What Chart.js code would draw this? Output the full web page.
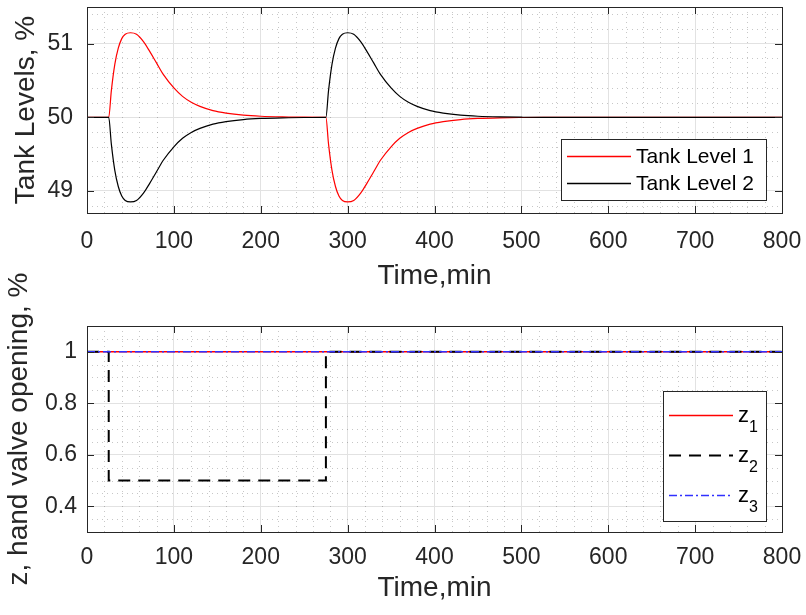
<!DOCTYPE html>
<html>
<head>
<meta charset="utf-8">
<script src="https://cdn.jsdelivr.net/npm/chart.js@4.4.1/dist/chart.umd.min.js"></script>
<style>
  body { margin: 0; background: #fff; }
  #wrap { position: relative; width: 806px; height: 615px; }
  #levelChart { position: absolute; left: 0; top: 0; }
  #valveChart { position: absolute; left: 0; top: 250px; }
</style>
</head>
<body>
<div id="wrap">
  <canvas id="levelChart" width="806" height="300"></canvas>
  <canvas id="valveChart" width="806" height="365"></canvas>
</div>
<script>
// time samples (min)
const levelTime = [0, 25, 28, 32, 36, 40, 44, 50, 57, 65,
  72, 80, 88, 100, 110, 120, 130, 145, 160, 180,
  200, 225, 250, 275, 278, 282, 286, 290, 294, 300,
  307, 315, 322, 330, 338, 350, 360, 370, 380, 395,
  410, 430, 450, 475, 500, 525, 800];

const tankLevel1 = [50, 50, 50.36, 50.72, 50.94, 51.07, 51.13, 51.15, 51.13, 51.03,
  50.90, 50.74, 50.58, 50.40, 50.285, 50.205, 50.15, 50.092, 50.058, 50.03,
  50.015, 50.006, 50.002, 50, 49.64, 49.28, 49.06, 48.93, 48.87, 48.85,
  48.87, 48.97, 49.10, 49.26, 49.42, 49.60, 49.715, 49.795, 49.85, 49.908,
  49.942, 49.97, 49.985, 49.994, 49.998, 50, 50];

const tankLevel2 = [50, 50, 49.64, 49.28, 49.06, 48.93, 48.87, 48.85, 48.87, 48.97,
  49.10, 49.26, 49.42, 49.60, 49.715, 49.795, 49.85, 49.908, 49.942, 49.97,
  49.985, 49.994, 49.998, 50, 50.36, 50.72, 50.94, 51.07, 51.13, 51.15,
  51.13, 51.03, 50.90, 50.74, 50.58, 50.40, 50.285, 50.205, 50.15, 50.092,
  50.058, 50.03, 50.015, 50.006, 50.002, 50, 50];

// hand valve openings
const valveTime = [0, 25, 25, 275, 275, 800];
const z1 = [1, 1, 1, 1, 1, 1];
const z2 = [1, 1, 0.5, 0.5, 1, 1];
const z3 = [1, 1, 1, 1, 1, 1];

// tick labels
const timeTicks = [0, 100, 200, 300, 400, 500, 600, 700, 800];
const levelTicks = [49, 50, 51];
const valveTicks = [0.4, 0.6, 0.8, 1];

const textColor = '#262626';
Chart.defaults.font.family = '"Liberation Sans", Arial, Helvetica, sans-serif';
Chart.defaults.color = textColor;

function toPoints(xs, ys) {
  return xs.map((x, i) => ({ x: x, y: ys[i] }));
}

function minorValues(min, max, step, major) {
  const out = [];
  for (let k = Math.ceil(min / step - 1e-9); k * step <= max + 1e-9; k++) {
    const v = k * step;
    const r = v / major;
    if (Math.abs(r - Math.round(r)) < 1e-6) continue;
    if (Math.abs(v - min) < 1e-9 || Math.abs(v - max) < 1e-9) continue;
    out.push(v);
  }
  return out;
}

function strokeLine(ctx, x1, y1, x2, y2) {
  ctx.beginPath();
  ctx.moveTo(x1, y1);
  ctx.lineTo(x2, y2);
  ctx.stroke();
}

// dotted minor grid, box and inward tick marks like matlab axes
const matlabAxes = {
  id: 'matlabAxes',
  beforeDatasetsDraw(chart, args, opts) {
    const { ctx, chartArea: a } = chart;
    const xs = chart.scales.x, ys = chart.scales.y;
    ctx.save();
    ctx.strokeStyle = 'rgba(0,0,0,0.22)';
    ctx.lineWidth = 1;
    ctx.setLineDash([1, 4]);
    minorValues(xs.min, xs.max, opts.xMinor, opts.xMajor).forEach(v => {
      const p = Math.round(xs.getPixelForValue(v)) + 0.5;
      strokeLine(ctx, p, a.top, p, a.bottom);
    });
    minorValues(ys.min, ys.max, opts.yMinor, opts.yMajor).forEach(v => {
      const p = Math.round(ys.getPixelForValue(v)) + 0.5;
      strokeLine(ctx, a.left, p, a.right, p);
    });
    ctx.restore();
  },
  afterDatasetsDraw(chart) {
    const { ctx, chartArea: a } = chart;
    const xs = chart.scales.x, ys = chart.scales.y;
    const len = 7;
    ctx.save();
    ctx.strokeStyle = textColor;
    ctx.lineWidth = 1;
    xs.ticks.forEach(t => {
      const p = Math.round(xs.getPixelForValue(t.value)) + 0.5;
      strokeLine(ctx, p, a.bottom, p, a.bottom - len);
      strokeLine(ctx, p, a.top, p, a.top + len);
    });
    ys.ticks.forEach(t => {
      const p = Math.round(ys.getPixelForValue(t.value)) + 0.5;
      strokeLine(ctx, a.left, p, a.left + len, p);
      strokeLine(ctx, a.right, p, a.right - len, p);
    });
    ctx.strokeRect(Math.round(a.left) + 0.5, Math.round(a.top) + 0.5,
      Math.round(a.right - a.left), Math.round(a.bottom - a.top));
    ctx.restore();
  }
};

// legend box drawn inside the plot area
const boxLegend = {
  id: 'boxLegend',
  afterDraw(chart, args, opts) {
    const { ctx, chartArea: a } = chart;
    const right = Math.round(a.right - opts.insetRight);
    const bottom = Math.round(a.bottom - opts.insetBottom);
    const left = right - opts.width;
    const top = bottom - opts.height;
    ctx.save();
    ctx.fillStyle = '#fff';
    ctx.fillRect(left, top, opts.width, opts.height);
    ctx.strokeStyle = textColor;
    ctx.lineWidth = 1;
    ctx.strokeRect(left + 0.5, top + 0.5, opts.width, opts.height);

    chart.data.datasets.forEach((ds, i) => {
      const y = Math.round(top + opts.firstRow + i * opts.rowGap) + 0.5;
      ctx.save();
      ctx.strokeStyle = ds.borderColor;
      ctx.lineWidth = Math.max(ds.borderWidth, 1.5);
      ctx.setLineDash(ds.borderDash || []);
      strokeLine(ctx, left + 6, y, left + 70, y);
      ctx.restore();
      ctx.fillStyle = '#000';
      ctx.textAlign = 'left';
      if (opts.sub) {
        ctx.textBaseline = 'alphabetic';
        ctx.font = '22px "Liberation Sans", Arial, sans-serif';
        ctx.fillText(ds.label, left + 75, y + 6);
        const w = ctx.measureText(ds.label).width;
        ctx.font = '16px "Liberation Sans", Arial, sans-serif';
        ctx.fillText(opts.sub[i], left + 75 + w, y + 16);
      } else {
        ctx.textBaseline = 'middle';
        ctx.font = '21px "Liberation Sans", Arial, sans-serif';
        ctx.fillText(ds.label, left + 75, y + 1);
      }
    });
    ctx.restore();
  }
};

function axisOptions(cfg) {
  return {
    x: {
      type: 'linear',
      min: 0,
      max: 800,
      afterBuildTicks: s => { s.ticks = timeTicks.map(v => ({ value: v })); },
      afterFit: s => { s.height = cfg.xHeight; s.paddingLeft = 0; s.paddingRight = 0; },
      ticks: { font: { size: 23 }, color: textColor, padding: cfg.xTickPad, maxRotation: 0, autoSkip: false,
        callback: v => String(v) },
      grid: { color: '#e2e2e2', drawTicks: false },
      border: { display: false },
      title: { display: true, text: 'Time,min', font: { size: 28 }, color: textColor,
        padding: { top: 0, bottom: cfg.xTitlePad } }
    },
    y: {
      min: cfg.yMin,
      max: cfg.yMax,
      afterBuildTicks: s => { s.ticks = cfg.yTicks.map(v => ({ value: v })); },
      afterFit: s => { s.width = 87; s.paddingTop = 0; s.paddingBottom = 0; },
      ticks: { font: { size: 23 }, color: textColor, padding: cfg.yTickPad,
        callback: v => String(v) },
      grid: { color: '#e2e2e2', drawTicks: false },
      border: { display: false },
      title: { display: true, text: cfg.yTitle, font: { size: 28 }, color: textColor,
        padding: { top: cfg.yTitlePad, bottom: 0 } }
    }
  };
}

new Chart(document.getElementById('levelChart'), {
  type: 'line',
  data: {
    datasets: [
      { label: 'Tank Level 1', data: toPoints(levelTime, tankLevel1), borderColor: '#ff0000',
        borderWidth: 1.2, pointRadius: 0, cubicInterpolationMode: 'monotone', order: 1 },
      { label: 'Tank Level 2', data: toPoints(levelTime, tankLevel2), borderColor: '#000000',
        borderWidth: 1.2, pointRadius: 0, cubicInterpolationMode: 'monotone', order: 0 }
    ]
  },
  options: {
    responsive: false,
    animation: false,
    layout: { padding: { top: 7, right: 24, left: 0, bottom: 0 } },
    scales: axisOptions({ xHeight: 87, xTickPad: 15, xTitlePad: 7, yMin: 48.7, yMax: 51.5,
      yTicks: levelTicks, yTickPad: 14, yTitle: 'Tank Levels, %', yTitlePad: 9 }),
    plugins: {
      legend: { display: false },
      tooltip: { enabled: false },
      matlabAxes: { xMinor: 20, xMajor: 100, yMinor: 0.2, yMajor: 1 },
      boxLegend: { insetRight: 16, insetBottom: 13, width: 205, height: 61, firstRow: 16.5, rowGap: 27.6 }
    }
  },
  plugins: [matlabAxes, boxLegend]
});

new Chart(document.getElementById('valveChart'), {
  type: 'line',
  data: {
    datasets: [
      { label: 'z', data: toPoints(valveTime, z1), borderColor: '#ff0000',
        borderWidth: 1.5, pointRadius: 0, order: 2 },
      { label: 'z', data: toPoints(valveTime, z2), borderColor: '#000000',
        borderWidth: 2, borderDash: [12, 8], pointRadius: 0, order: 1 },
      { label: 'z', data: toPoints(valveTime, z3), borderColor: '#3030ff',
        borderWidth: 1.5, borderDash: [8, 3, 2, 3], pointRadius: 0, order: 0 }
    ]
  },
  options: {
    responsive: false,
    animation: false,
    layout: { padding: { top: 76, right: 24, left: 0, bottom: 0 } },
    scales: axisOptions({ xHeight: 83, xTickPad: 12, xTitlePad: 10, yMin: 0.3, yMax: 1.1,
      yTicks: valveTicks, yTickPad: 10, yTitle: 'z, hand valve opening, %', yTitlePad: 2 }),
    plugins: {
      legend: { display: false },
      tooltip: { enabled: false },
      matlabAxes: { xMinor: 20, xMajor: 100, yMinor: 0.05, yMajor: 0.2 },
      boxLegend: { insetRight: 16, insetBottom: 11, width: 103, height: 130, firstRow: 23.5, rowGap: 40.3,
        sub: ['1', '2', '3'] }
    }
  },
  plugins: [matlabAxes, boxLegend]
});
</script>
</body>
</html>
